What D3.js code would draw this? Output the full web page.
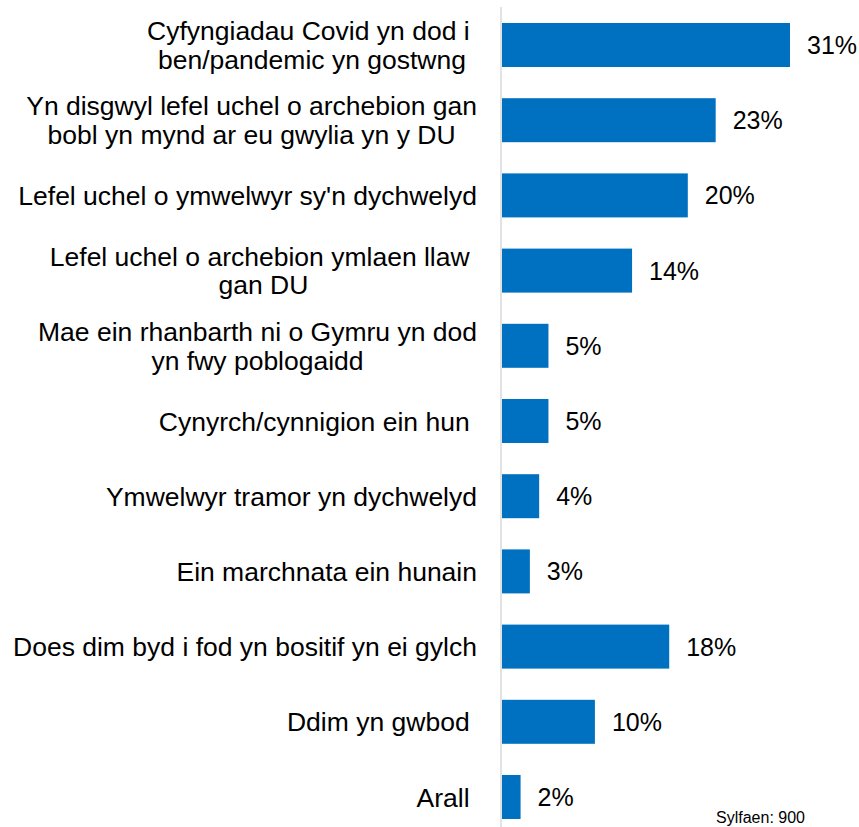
<!DOCTYPE html>
<html>
<head>
<meta charset="utf-8">
<script src="https://cdn.jsdelivr.net/npm/d3@7"></script>
<style>
  html, body { margin: 0; padding: 0; background: #fff; }
  svg { display: block; }
  text { font-family: Arial, "Liberation Sans", sans-serif; fill: #000; white-space: pre; }
</style>
</head>
<body>
<svg id="chart" width="859" height="827"></svg>
<script>
// Category labels (each an array of wrapped lines)
const categories = [
  ["Cyfyngiadau Covid yn dod i ", "ben/pandemic yn gostwng"],
  ["Yn disgwyl lefel uchel o archebion gan", "bobl yn mynd ar eu gwylia yn y DU"],
  ["Lefel uchel o ymwelwyr sy'n dychwelyd"],
  ["Lefel uchel o archebion ymlaen llaw ", "gan DU"],
  ["Mae ein rhanbarth ni o Gymru yn dod", "yn fwy poblogaidd"],
  ["Cynyrch/cynnigion ein hun "],
  ["Ymwelwyr tramor yn dychwelyd"],
  ["Ein marchnata ein hunain"],
  ["Does dim byd i fod yn bositif yn ei gylch"],
  ["Ddim yn gwbod "],
  ["Arall "]
];
const values = [31, 23, 20, 14, 5, 5, 4, 3, 18, 10, 2];
const valueLabels = ["31%", "23%", "20%", "14%", "5%", "5%", "4%", "3%", "18%", "10%", "2%"];
const baseNote = "Sylfaen: 900";

const svg = d3.select("#chart");
const ids = d3.range(values.length);

const x = d3.scaleLinear().domain([0, 31]).range([502, 790]);
const y = d3.scaleBand().domain(ids).range([7.4, 834.6]).paddingInner(0.415).paddingOuter(0.2075);

// vertical axis line
svg.append("line")
  .attr("x1", 501).attr("x2", 501)
  .attr("y1", 7).attr("y2", 827)
  .attr("stroke", "#d9d9d9").attr("stroke-width", 1.5);

// bars
svg.selectAll("rect.bar").data(ids).join("rect")
  .attr("class", "bar")
  .attr("x", x(0))
  .attr("y", i => y(i))
  .attr("width", i => x(values[i]) - x(0))
  .attr("height", y.bandwidth())
  .attr("fill", "#0070C0");

// value labels
svg.selectAll("text.val").data(ids).join("text")
  .attr("class", "val")
  .attr("x", i => x(values[i]) + 17)
  .attr("y", i => y(i) + y.bandwidth() / 2)
  .attr("dy", "0.36em")
  .attr("font-size", 25)
  .text(i => valueLabels[i]);

// category labels: lines centred on each other, block right-aligned
const rightEdge = 477;
const lineH = 28.5;
const fs = 26.5;
ids.forEach(i => {
  const lines = categories[i];
  const g = svg.append("text").attr("font-size", fs).attr("text-anchor", "middle");
  const cy = y(i) + y.bandwidth() / 2;
  const tspans = lines.map((ln, k) =>
    g.append("tspan")
      .attr("y", cy + (k - (lines.length - 1) / 2) * lineH)
      .attr("dy", "0.36em")
      .text(ln)
  );
  const maxW = d3.max(tspans, t => t.node().getComputedTextLength());
  const cx = rightEdge - maxW / 2;
  tspans.forEach(t => t.attr("x", cx));
});

// base note
svg.append("text")
  .attr("x", 805).attr("y", 823)
  .attr("text-anchor", "end")
  .attr("font-size", 16)
  .text(baseNote);
</script>
</body>
</html>
